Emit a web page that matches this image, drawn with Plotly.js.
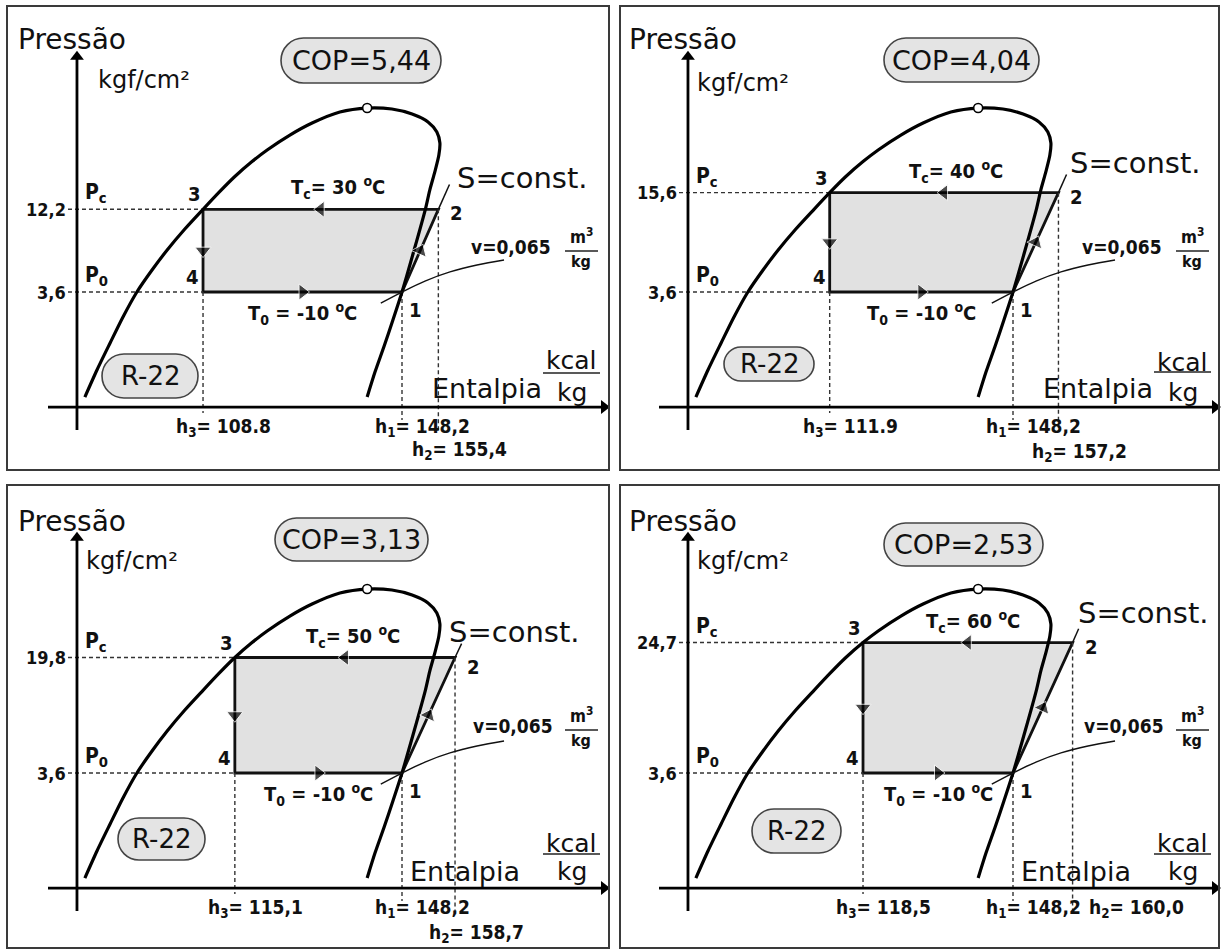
<!DOCTYPE html>
<html><head><meta charset="utf-8">
<script src="https://cdn.plot.ly/plotly-3.0.1.min.js"></script>
<style>html,body{margin:0;padding:0;background:#fff}#chart{width:1225px;height:952px}</style>
</head><body><div id="chart"></div>
<script>
// ---------------- data ----------------
const condTemps = [30, 40, 50, 60];           // Tc (°C) per panel
const evapTemp = -10;                         // T0 (°C)
const copLabels = ['5,44', '4,04', '3,13', '2,53'];
const pcValues = [12.2, 15.6, 19.8, 24.7];    // kgf/cm2
const pcLabels = ['12,2', '15,6', '19,8', '24,7'];
const p0Value = 3.6;
const p0Label = '3,6';
const h3Values = [108.8, 111.9, 115.1, 118.5]; // kcal/kg
const h3Labels = ['108.8', '111.9', '115,1', '118,5'];
const h1Value = 148.2;
const h1Label = '148,2';
const h2Values = [155.4, 157.2, 158.7, 160.0];
const h2Labels = ['155,4', '157,2', '158,7', '160,0'];
// R-22 saturation dome (schematic, as drawn)
const domeH = [85.4, 87.8, 90.4, 92.95, 95.7, 98.7, 101.7, 105.2, 108.8, 111.9, 115.1, 118.5, 121.5, 126.0, 130.4, 135.9, 141.3,
               146.2, 150.2, 153.35, 155.1, 155.7, 155.5, 154.7, 153.7, 152.8, 150.6, 148.2, 146.4, 144.6, 142.85, 141.3];
const domeP = [0.764, 1.139, 1.696, 2.489, 3.6, 4.98, 6.69, 9.12, 12.2, 15.6, 19.8, 24.7, 29.3, 36.5, 43.6, 51.3, 54.4,
               53.6, 49.8, 44.3, 38.2, 32.5, 27.2, 21.2, 16.2, 12.1, 6.69, 3.6, 2.38, 1.60, 1.105, 0.764];
const criticalH = [141.3];
const criticalP = [54.4];
// isochore v = 0,065 m3/kg through point 1
const isochoreH = [144.0, 148.2, 152.75, 157.7, 163.05, 168.4];
const isochoreP = [3.06, 3.6, 4.23, 4.84, 5.36, 5.77];
// continuation of the S = const line beyond point 2
const sEndH = [157.6, 158.8, 160.0, 161.2];
const sEndP = [17.6, 20.4, 24.3, 30.3];

// ---------------- layout constants ----------------
const W = 1225, H = 952;
const colOff = [0, 611, 0, 611];
const rowOff = [0, 0, 481, 481];
const PLOT = {left: 10, right: 608, top: 12, bottom: 462};
const X_RANGE = [70.576, 188.992];
const Y_RANGE = [-0.5334, 2.3512];
const AX = {yAxisH: 83.84, xAxisP: 0.659, xFrom: 78.1, xTo: 188.2, yFrom: 0.4695, yTo: 116, tickH: 82.06, pLabH: 85.03};
const DROP = {h3: 0.603, h1: 0.544, h2: 0.47};
const SANS = 'DejaVu Sans, Verdana, sans-serif';
const COND = 'DejaVu Sans Condensed, Liberation Sans Narrow, DejaVu Sans, sans-serif';
const INK = '#111';

const copBox = [[281, 441, 38, 83], [273, 428, 38, 82], [275, 428, 37, 80], [273, 432, 42, 85]];
const r22Box = [[102, 198, 354, 398], [113, 203, 347, 381], [118, 205, 337, 379], [141, 230, 328, 372]];
const kgfPos = [[96, 80], [84, 83], [84, 80], [84, 80]];
const entPos = [[430, 388, 360, 373, 392], [430, 388, 362, 372, 392], [408, 390, 362, 373, 390], [408, 390, 362, 373, 390]];
const sPos = [[455, 178], [457, 163], [447, 151], [465, 132]];
const vPos = [[469, 247], [469, 247], [471, 245], [471, 245]];
const h2Shift = [[-28, -29], [-28, -31], [-28, -31], [14, -6]];
const pt2Shift = [-4, -4, -9, -4];
const boxes = [[7, 609, 6, 470], [620, 1219, 6, 470], [7, 609, 485, 948], [620, 1219, 485, 948]];

const L10 = Math.log10;
const data = [], annotations = [], shapes = [];
const layout = {
  width: W, height: H, margin: {l: 0, r: 0, t: 0, b: 0},
  paper_bgcolor: '#fff', plot_bgcolor: 'rgba(0,0,0,0)', showlegend: false, hovermode: false
};

function pillPath(i, b) {
  const [x0, x1, y0, y1] = b;
  const r = (y1 - y0) / 2, k = 0.5523 * r;
  const X = p => ((colOff[i] + p) / W).toFixed(5), Y = p => (1 - (rowOff[i] + p) / H).toFixed(5);
  return `M ${X(x0 + r)} ${Y(y0)} L ${X(x1 - r)} ${Y(y0)} ` +
    `C ${X(x1 - r + k)} ${Y(y0)} ${X(x1)} ${Y(y0 + r - k)} ${X(x1)} ${Y(y0 + r)} ` +
    `C ${X(x1)} ${Y(y0 + r + k)} ${X(x1 - r + k)} ${Y(y1)} ${X(x1 - r)} ${Y(y1)} ` +
    `L ${X(x0 + r)} ${Y(y1)} ` +
    `C ${X(x0 + r - k)} ${Y(y1)} ${X(x0)} ${Y(y0 + r + k)} ${X(x0)} ${Y(y0 + r)} ` +
    `C ${X(x0)} ${Y(y0 + r - k)} ${X(x0 + r - k)} ${Y(y0)} ${X(x0 + r)} ${Y(y0)} Z`;
}

for (let i = 0; i < 4; i++) {
  const s = i === 0 ? '' : String(i + 1);
  const xa = 'x' + s, ya = 'y' + s;
  const h3 = h3Values[i], h2 = h2Values[i], pc = pcValues[i];
  const PX = p => (colOff[i] + p) / W, PY = p => 1 - (rowOff[i] + p) / H;

  layout['xaxis' + s] = {domain: [PX(PLOT.left), PX(PLOT.right)], range: X_RANGE, anchor: ya,
    showgrid: false, zeroline: false, showticklabels: false, ticks: '', showline: false, fixedrange: true};
  layout['yaxis' + s] = {domain: [PY(PLOT.bottom), PY(PLOT.top)], range: Y_RANGE, type: 'log', anchor: xa,
    showgrid: false, zeroline: false, showticklabels: false, ticks: '', showline: false, fixedrange: true};

  const base = {type: 'scatter', xaxis: xa, yaxis: ya, hoverinfo: 'skip', showlegend: false, cliponaxis: false};
  // cycle area 3-2-1-4
  data.push(Object.assign({}, base, {mode: 'lines', x: [h3, h2, h1Value, h3, h3], y: [pc, pc, p0Value, p0Value, pc],
    fill: 'toself', fillcolor: '#e1e1e1', line: {color: INK, width: 2.8}}));
  // dashed guides
  data.push(Object.assign({}, base, {mode: 'lines',
    x: [AX.tickH, h3, null, AX.tickH, h3, null, h3, h3, null, h1Value, h1Value, null, h2, h2],
    y: [pc, pc, null, p0Value, p0Value, null, p0Value, DROP.h3, null, p0Value, DROP.h1, null, pc, DROP.h2],
    line: {color: '#333', width: 1.4, dash: '4px,3px'}}));
  // dome
  data.push(Object.assign({}, base, {mode: 'lines', x: domeH, y: domeP, line: {color: '#000', width: 3.2, shape: 'spline', smoothing: 0.7}}));
  // S=const continuation
  data.push(Object.assign({}, base, {mode: 'lines', x: [h2, sEndH[i]], y: [pc, sEndP[i]], line: {color: INK, width: 1.5}}));
  // isochore
  data.push(Object.assign({}, base, {mode: 'lines', x: isochoreH, y: isochoreP, line: {color: INK, width: 1.4, shape: 'spline'}}));
  // axes
  data.push(Object.assign({}, base, {mode: 'lines', x: [AX.xFrom, AX.xTo, null, AX.yAxisH, AX.yAxisH],
    y: [AX.xAxisP, AX.xAxisP, null, AX.yFrom, AX.yTo], line: {color: '#000', width: 2.8}}));
  data.push(Object.assign({}, base, {mode: 'markers', x: [AX.xTo, AX.yAxisH], y: [AX.xAxisP, AX.yTo],
    marker: {symbol: ['triangle-right', 'triangle-up'], size: 12, color: '#000'}}));
  // critical point
  data.push(Object.assign({}, base, {mode: 'markers', x: criticalH, y: criticalP,
    marker: {symbol: 'circle', size: 9, color: '#fff', line: {color: '#000', width: 1.6}}}));
  // flow arrows on the cycle
  const hTop = (h3 + h2) / 2, hBot = (h3 + h1Value) / 2, pMid = Math.sqrt(pc * p0Value), hIs = (h1Value + h2) / 2;
  data.push(Object.assign({}, base, {mode: 'markers',
    x: [h2, hTop, h3, hBot, h3, h3, h1Value, hIs],
    y: [pc, pc, p0Value, p0Value, pc, pMid, p0Value, pMid],
    marker: {symbol: 'triangle-up', angleref: 'previous', size: [0, 14, 0, 14, 0, 14, 0, 14], color: '#000'}}));

  // ---- labels tied to data ----
  const A = (o, size) => annotations.push(Object.assign({xref: xa, yref: ya, showarrow: false,
    font: {family: COND, size: size || 19, color: INK, weight: 'bold'}}, o));
  A({x: AX.tickH, y: L10(pc), text: pcLabels[i], xanchor: 'right', yanchor: 'middle'}, 18);
  A({x: AX.tickH, y: L10(p0Value), text: p0Label, xanchor: 'right', yanchor: 'middle'}, 18);
  A({x: AX.pLabH, y: L10(pc), text: 'P<sub>c</sub>', xanchor: 'left', yanchor: 'bottom', yshift: 1}, 21);
  A({x: AX.pLabH, y: L10(p0Value), text: 'P<sub>0</sub>', xanchor: 'left', yanchor: 'bottom', yshift: 1}, 21);
  A({x: h3, y: L10(pc), text: '3', xanchor: 'right', yanchor: 'bottom', yshift: 1}, 20);
  A({x: h3, y: L10(p0Value), text: '4', xanchor: 'right', yanchor: 'bottom', xshift: -2, yshift: 1}, 20);
  A({x: h1Value, y: L10(p0Value), text: '1', xanchor: 'left', yanchor: 'top', xshift: 5, yshift: -4}, 20);
  A({x: h2, y: L10(pc), text: '2', xanchor: 'left', yanchor: 'middle', xshift: 10, yshift: pt2Shift[i]}, 20);
  A({x: hBot, y: L10(pc), text: `T<sub>c</sub>= ${condTemps[i]} <sup>o</sup>C`, xanchor: 'center', yanchor: 'bottom', xshift: 35, yshift: 5}, 20);
  A({x: hBot, y: L10(p0Value), text: `T<sub>0</sub> = ${evapTemp} <sup>o</sup>C`, xanchor: 'center', yanchor: 'top', yshift: -5}, 20);
  A({x: h3, y: L10(AX.xAxisP), text: `h<sub>3</sub>= ${h3Labels[i]}`, xanchor: 'left', yanchor: 'top', xshift: -29, yshift: -6}, 19);
  A({x: h1Value, y: L10(AX.xAxisP), text: `h<sub>1</sub>= ${h1Label}`, xanchor: 'left', yanchor: 'top', xshift: -29, yshift: -6}, 19);
  A({x: h2, y: L10(AX.xAxisP), text: `h<sub>2</sub>= ${h2Labels[i]}`, xanchor: 'left', yanchor: 'top', xshift: h2Shift[i][0], yshift: h2Shift[i][1]}, 19);

  // ---- panel texts ----
  const B = (o, size, fam, weight) => annotations.push(Object.assign({xref: 'paper', yref: 'paper', showarrow: false,
    font: {family: fam || SANS, size: size, color: INK, weight: weight || 'normal'}}, o));
  B({x: PX(16), y: PY(40), text: 'Pressão', xanchor: 'left', yanchor: 'middle'}, 28);
  B({x: PX(kgfPos[i][0]), y: PY(kgfPos[i][1]), text: 'kgf/cm²', xanchor: 'left', yanchor: 'middle'}, 24);
  const cb = copBox[i], rb = r22Box[i];
  shapes.push({type: 'path', xref: 'paper', yref: 'paper', path: pillPath(i, cb), fillcolor: '#e4e4e4', line: {color: '#444', width: 1.6}, layer: 'below'});
  B({x: PX((cb[0] + cb[1]) / 2), y: PY((cb[2] + cb[3]) / 2), text: 'COP=' + copLabels[i], xanchor: 'center', yanchor: 'middle'}, 27);
  shapes.push({type: 'path', xref: 'paper', yref: 'paper', path: pillPath(i, rb), fillcolor: '#e4e4e4', line: {color: '#444', width: 1.6}, layer: 'below'});
  B({x: PX((rb[0] + rb[1]) / 2), y: PY((rb[2] + rb[3]) / 2), text: 'R-22', xanchor: 'center', yanchor: 'middle'}, 26);
  const e = entPos[i];
  B({x: PX(e[0]), y: PY(e[1]), text: 'Entalpia', xanchor: 'left', yanchor: 'middle'}, 27);
  B({x: PX(571), y: PY(e[2]), text: 'kcal', xanchor: 'center', yanchor: 'middle'}, 25);
  B({x: PX(572), y: PY(e[4]), text: 'kg', xanchor: 'center', yanchor: 'middle'}, 25);
  shapes.push({type: 'line', xref: 'paper', yref: 'paper', x0: PX(543), x1: PX(600), y0: PY(e[3]), y1: PY(e[3]), line: {color: '#222', width: 1.6}});
  B({x: PX(sPos[i][0]), y: PY(sPos[i][1]), text: 'S=const.', xanchor: 'left', yanchor: 'middle'}, 29);
  const v = vPos[i];
  B({x: PX(v[0]), y: PY(v[1]), text: 'v=0,065', xanchor: 'left', yanchor: 'middle'}, 19, COND, 'bold');
  B({x: PX(581), y: PY(v[1] - 11), text: 'm<sup>3</sup>', xanchor: 'center', yanchor: 'middle'}, 17, COND, 'bold');
  B({x: PX(581), y: PY(v[1] + 14), text: 'kg', xanchor: 'center', yanchor: 'middle'}, 16, COND, 'bold');
  shapes.push({type: 'line', xref: 'paper', yref: 'paper', x0: PX(565), x1: PX(598), y0: PY(v[1] + 4), y1: PY(v[1] + 4), line: {color: '#222', width: 1.3}});
}

// panel frames
boxes.forEach(b => shapes.push({type: 'rect', xref: 'paper', yref: 'paper',
  x0: b[0] / W, x1: b[1] / W, y0: 1 - b[3] / H, y1: 1 - b[2] / H, line: {color: '#3a3a3a', width: 2}, fillcolor: 'rgba(0,0,0,0)'}));

layout.annotations = annotations;
layout.shapes = shapes;
Plotly.newPlot('chart', data, layout, {staticPlot: true, displayModeBar: false});
</script>
</body></html>
